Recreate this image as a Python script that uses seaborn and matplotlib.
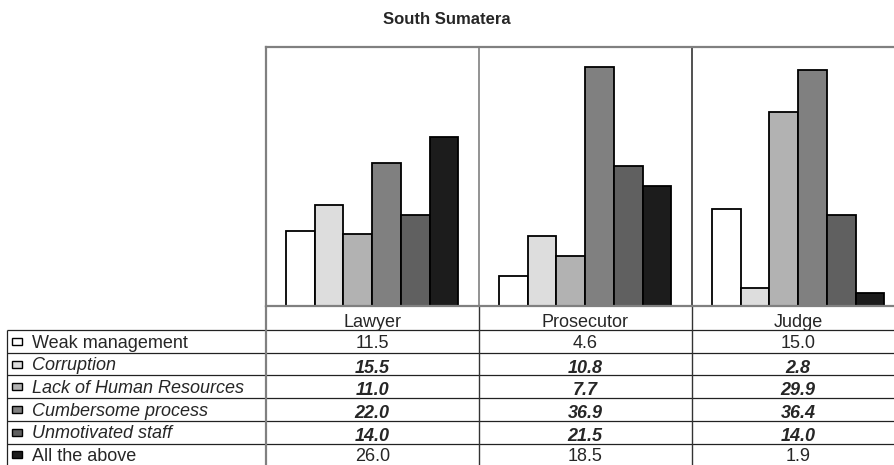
import numpy as np
import pandas as pd
import matplotlib
matplotlib.use("Agg")
import matplotlib.pyplot as plt
import matplotlib.transforms as mtransforms
from matplotlib.patches import Rectangle
import seaborn as sns

# Survey results (percent) by respondent group
categories = ["Lawyer", "Prosecutor", "Judge"]
series = ["Weak management", "Corruption", "Lack of Human Resources",
          "Cumbersome process", "Unmotivated staff", "All the above"]
weak_management = [11.5, 4.6, 15.0]
corruption = [15.5, 10.8, 2.8]
lack_of_hr = [11.0, 7.7, 29.9]
cumbersome_process = [22.0, 36.9, 36.4]
unmotivated_staff = [14.0, 21.5, 14.0]
all_the_above = [26.0, 18.5, 1.9]
series_colors = ["#FFFFFF", "#DDDDDD", "#B2B2B2", "#808080", "#606060", "#1C1C1C"]
emphasised = [False, True, True, True, True, False]

values = [weak_management, corruption, lack_of_hr, cumbersome_process,
          unmotivated_staff, all_the_above]
df = pd.DataFrame({
    "Role": np.tile(categories, len(series)),
    "Reason": np.repeat(series, len(categories)),
    "Percent": np.concatenate(values),
})

sns.set_style("white")
plt.rcParams["font.family"] = ["Liberation Sans", "DejaVu Sans"]

W, H = 894, 465
fig = plt.figure(figsize=(W / 100, H / 100), dpi=100)

# full-figure overlay in pixel units for the data table
ov = fig.add_axes([0, 0, 1, 1])
ov.set_xlim(0, W)
ov.set_ylim(H, 0)
ov.axis("off")

left, top, bottom = 265.7, 46.7, 305.7
group_w = 213.0
right = left + 3 * group_w
ax = fig.add_axes([left / W, 1 - bottom / H, (right - left) / W, (bottom - top) / H])
sns.barplot(data=df, x="Role", y="Percent", hue="Reason", order=categories,
            hue_order=series, palette=series_colors, saturation=1, width=0.81,
            edgecolor="black", linewidth=1.3, legend=False, ax=ax)
ax.set_xlim(-0.5, 2.5)
ax.set_ylim(0, 40)
ax.set_xlabel("")
ax.set_ylabel("")
ax.set_xticks([])
ax.set_yticks([])
for s in ax.spines.values():
    s.set_visible(True)
    s.set_color("#808080")
    s.set_linewidth(1.6)
for xb, col in [(0.5, "#808080"), (1.5, "#333333")]:
    ax.axvline(xb, color=col, lw=1.2, zorder=0)

# data table under the bars
trans = mtransforms.blended_transform_factory(ax.transData, ov.transData)
row_h = 22.7
header_bottom = 330.0
tbl_left = 7.0
line_col = "#222222"
fs = 13

for i, cat in enumerate(categories):
    ov.text(i, header_bottom - 3, cat, transform=trans,
            ha="center", va="baseline", fontsize=fs)

ov.hlines(header_bottom, tbl_left, W, color=line_col, lw=0.9)
for r, name in enumerate(series):
    y0 = header_bottom + r * row_h
    y1 = y0 + row_h
    yc = (y0 + y1) / 2
    ov.hlines(y1, tbl_left, W, color=line_col, lw=0.9)
    ov.add_patch(Rectangle((12, yc - 3.5), 10, 7, facecolor=series_colors[r],
                           edgecolor="black", lw=1.0))
    style = "italic" if emphasised[r] else "normal"
    weight = "bold" if emphasised[r] else "normal"
    ov.text(32, y0 + 17.5, name, ha="left", va="baseline", fontsize=fs, style=style)
    base = y0 + 20 if emphasised[r] else y0 + 17.5
    for c in range(len(categories)):
        ov.text(c, base, f"{values[r][c]:.1f}", transform=trans, ha="center",
                va="baseline", fontsize=fs, style=style, fontweight=weight)

ov.vlines(tbl_left, header_bottom, H, color=line_col, lw=0.9)
ov.plot([-0.5, -0.5], [bottom, H], transform=trans, color="#808080", lw=1.6)
for xb in [0.5, 1.5]:
    ov.plot([xb, xb], [bottom, H], transform=trans, color="#333333", lw=1.0)

fig.text(0.5, 1 - 19.5 / H, "South Sumatera", ha="center", va="center",
         fontsize=12, fontweight="bold")

fig.savefig("out.png", dpi=100)
